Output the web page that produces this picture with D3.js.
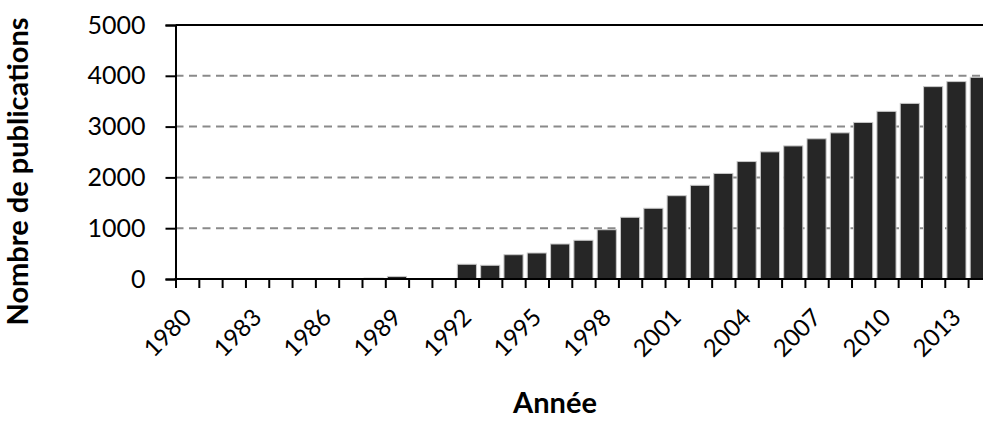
<!DOCTYPE html>
<html>
<head>
<meta charset="utf-8">
<script src="https://cdnjs.cloudflare.com/ajax/libs/d3/7.8.5/d3.min.js"></script>
<style>
  html, body { margin: 0; padding: 0; background: #fff; overflow: hidden; }
  svg { display: block; }
  text { font-family: Lato, "Open Sans", sans-serif; fill: #000; }
</style>
</head>
<body>
<div id="chart"></div>
<script>
const years = d3.range(1980, 2015);
const values = [0, 0, 0, 0, 0, 0, 0, 8, 18, 50, 5, 5,
  290, 270, 478, 512, 689, 762, 970, 1215, 1392, 1640, 1844, 2078,
  2312, 2503, 2620, 2760, 2877, 3082, 3300, 3457, 3787, 3886, 3970];
const yTicks = [0, 1000, 2000, 3000, 4000, 5000];
const labelYears = years.filter((y, i) => i % 3 === 0);
const yTitle = "Nombre de publications";
const xTitle = "Année";

const W = 983, H = 421;
const mLeft = 175.5, mRight = 991.4, mTop = 25, mBottom = 279;

const svg = d3.select("#chart").append("svg").attr("width", W).attr("height", H);

const x = d3.scaleBand().domain(years).range([mLeft, mRight]).paddingInner(0.18).paddingOuter(0.09);
const xb = d3.scaleLinear().domain([0, years.length]).range([mLeft, mRight]);
const y = d3.scaleLinear().domain([0, 5000]).range([mBottom, mTop]);

// gridlines
svg.append("g").selectAll("line").data(yTicks.filter(v => v > 0 && v < 5000)).join("line")
  .attr("x1", mLeft).attr("x2", W).attr("y1", d => y(d)).attr("y2", d => y(d))
  .attr("stroke", "#8a8a8a").attr("stroke-width", 2).attr("stroke-dasharray", "8,5.5");

// top border
svg.append("line").attr("x1", mLeft).attr("x2", W).attr("y1", y(5000)).attr("y2", y(5000))
  .attr("stroke", "#000").attr("stroke-width", 2);

// bars
svg.append("g").selectAll("rect").data(values).join("rect")
  .attr("x", (d, i) => x(years[i]))
  .attr("width", x.bandwidth())
  .attr("y", d => y(d))
  .attr("height", d => mBottom - y(d))
  .attr("fill", "#262626")
  .attr("stroke", "#c8c8c8").attr("stroke-width", 1);

// y axis
const yAxis = svg.append("g").attr("transform", `translate(${mLeft},0)`)
  .call(d3.axisLeft(y).tickValues(yTicks).tickSize(10).tickPadding(20).tickFormat(d3.format("d")));
yAxis.select(".domain").attr("stroke", "#000").attr("stroke-width", 2);
yAxis.selectAll(".tick line").attr("stroke", "#000").attr("stroke-width", 2);
yAxis.selectAll(".tick text").attr("font-size", 25).attr("font-family", "Lato").attr("fill", "#000");

// x axis ticks at boundaries
const xAxis = svg.append("g").attr("transform", `translate(0,${mBottom})`)
  .call(d3.axisBottom(xb).tickValues(d3.range(0, years.length + 1)).tickSize(9).tickFormat(""));
xAxis.select(".domain").remove();
xAxis.selectAll(".tick line").attr("stroke", "#000").attr("stroke-width", 2);
svg.append("line").attr("x1", mLeft - 1).attr("x2", W).attr("y1", mBottom).attr("y2", mBottom)
  .attr("stroke", "#000").attr("stroke-width", 2);

// x labels
svg.append("g").selectAll("text").data(labelYears).join("text")
  .attr("transform", d => `translate(${x(d) + x.bandwidth() / 2},${mBottom + 34}) rotate(-45)`)
  .attr("text-anchor", "end")
  .attr("dy", "0.35em")
  .attr("font-size", 24)
  .text(d => d);

// titles
svg.append("text").attr("transform", `translate(28,${(13 + 330) / 2}) rotate(-90)`)
  .attr("text-anchor", "middle").attr("font-size", 29).attr("font-weight", "bold").text(yTitle);
svg.append("text").attr("x", 555).attr("y", 413).attr("text-anchor", "middle")
  .attr("font-size", 29).attr("font-weight", "bold").text(xTitle);
</script>
</body>
</html>
